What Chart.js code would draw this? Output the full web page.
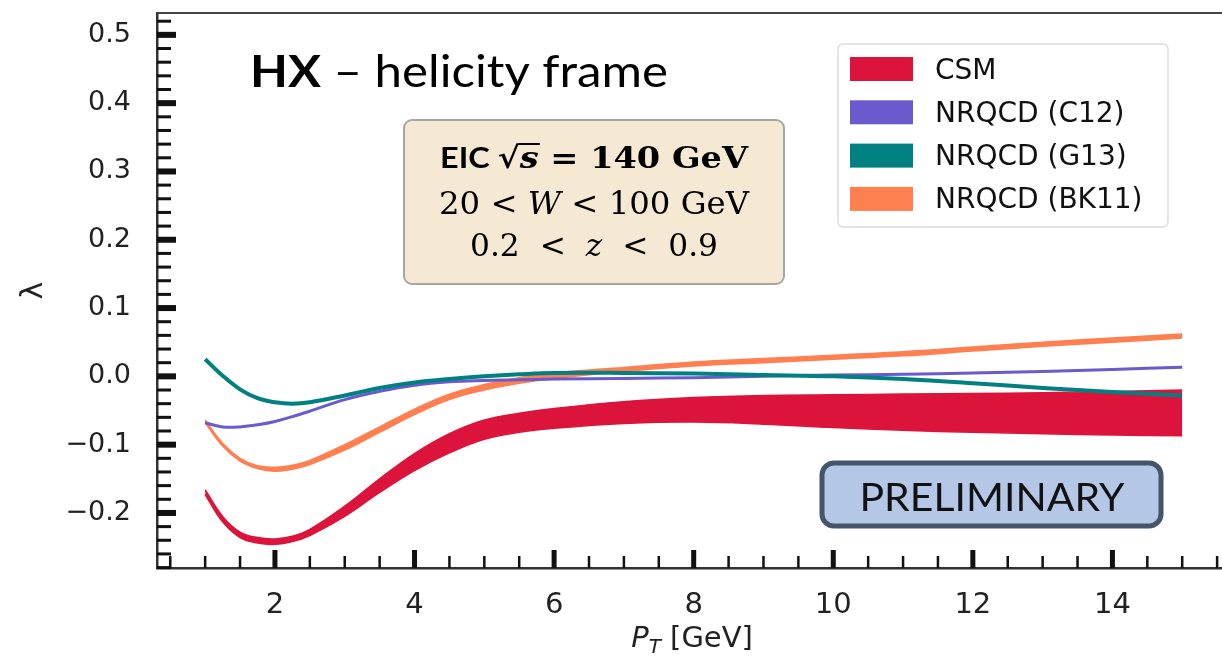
<!DOCTYPE html>
<html>
<head>
<meta charset="utf-8">
<title>HX helicity frame</title>
<script src="https://cdn.jsdelivr.net/npm/chart.js@4.4.1/dist/chart.umd.min.js"></script>
<style>
  html, body { margin: 0; padding: 0; background: #fff; overflow: hidden; }
  #box { position: relative; width: 1222px; height: 656px; }
</style>
</head>
<body>
<div id="box"><canvas id="myChart"></canvas></div>
<script>
// values (P_T in GeV, lambda)
const ptValues  = [1, 1.25, 1.5, 1.75, 2, 2.25, 2.5, 3, 3.5, 4, 4.5, 5, 5.5, 6, 7, 8, 9, 10, 11, 12, 13, 14, 15];
const csmUpper  = [-0.166, -0.205, -0.228, -0.236, -0.238, -0.234, -0.224, -0.190, -0.150, -0.113, -0.084, -0.064, -0.054, -0.047, -0.037, -0.031, -0.028, -0.027, -0.026, -0.025, -0.024, -0.022, -0.020];
const csmLower  = [-0.173, -0.213, -0.236, -0.244, -0.246, -0.242, -0.233, -0.205, -0.170, -0.138, -0.112, -0.092, -0.082, -0.076, -0.069, -0.067, -0.070, -0.075, -0.079, -0.082, -0.084, -0.086, -0.087];
const bk11Upper = [-0.064, -0.098, -0.120, -0.131, -0.133, -0.130, -0.123, -0.100, -0.074, -0.048, -0.026, -0.012, -0.002, 0.005, 0.013, 0.021, 0.026, 0.031, 0.036, 0.043, 0.050, 0.056, 0.062];
const bk11Lower = [-0.068, -0.102, -0.124, -0.135, -0.139, -0.136, -0.129, -0.108, -0.082, -0.056, -0.034, -0.020, -0.010, -0.003, 0.007, 0.015, 0.020, 0.025, 0.030, 0.037, 0.044, 0.050, 0.056];
const c12Values = [-0.068, -0.074, -0.074, -0.071, -0.066, -0.059, -0.051, -0.034, -0.022, -0.013, -0.008, -0.006, -0.005, -0.004, -0.003, -0.002, 0.000, 0.002, 0.003, 0.005, 0.007, 0.010, 0.0135];
const g13Values = [0.025, 0.001, -0.019, -0.032, -0.038, -0.040, -0.038, -0.028, -0.017, -0.009, -0.004, 0.000, 0.003, 0.005, 0.005, 0.004, 0.002, 0.000, -0.004, -0.010, -0.017, -0.023, -0.028];

const seriesNames  = ['CSM', 'NRQCD (C12)', 'NRQCD (G13)', 'NRQCD (BK11)'];
const seriesColors = ['#dc143c', '#6a5acd', '#008080', '#ff7f50'];
const xTickValues  = [2, 4, 6, 8, 10, 12, 14];
const yTickValues  = [-0.2, -0.1, 0.0, 0.1, 0.2, 0.3, 0.4, 0.5];

function toPoints(xs, ys) {
  return xs.map(function (x, i) { return { x: x, y: ys[i] }; });
}

function roundRect(ctx, x, y, w, h, r) {
  ctx.beginPath();
  ctx.moveTo(x + r, y);
  ctx.arcTo(x + w, y, x + w, y + h, r);
  ctx.arcTo(x + w, y + h, x, y + h, r);
  ctx.arcTo(x, y + h, x, y, r);
  ctx.arcTo(x, y, x + w, y, r);
  ctx.closePath();
}

// draw a row of text pieces, optionally squeezed/stretched to a width
function drawParts(ctx, parts, x, y, width, align) {
  let total = 0;
  parts.forEach(function (p) { ctx.font = p.font; p.w = ctx.measureText(p.text).width; total += p.w; });
  const sx = width ? width / total : 1;
  const startX = align === 'center' ? x - total * sx / 2 : x;
  ctx.save();
  ctx.translate(startX, y);
  ctx.scale(sx, 1);
  let cx = 0;
  parts.forEach(function (p) {
    ctx.font = p.font;
    ctx.fillText(p.text, cx, p.dy || 0);
    if (p.over) {
      ctx.fillRect(cx - 1, -p.over, p.w + 2, 2);
    }
    cx += p.w;
  });
  ctx.restore();
}

// inward tick marks (major + minor) and the top frame line
const tickMarks = {
  id: 'tickMarks',
  afterDraw(chart) {
    const ctx = chart.ctx, area = chart.chartArea;
    const xs = chart.scales.x, ys = chart.scales.y;
    ctx.save();
    ctx.fillStyle = '#111';
    for (let i = -14; i <= 26; i++) {
      const py = ys.getPixelForValue(i * 0.02);
      if (py < area.top || py > area.bottom + 1) continue;
      const major = i % 5 === 0;
      const len = major ? 19 : 14, w = major ? 6 : 3;
      ctx.fillRect(area.left, py - w / 2, len, w);
    }
    for (let i = 1; i <= 31; i++) {
      const px = xs.getPixelForValue(i * 0.5);
      if (px < area.left || px > area.right) continue;
      const major = i % 4 === 0;
      const len = major ? 18 : 12, w = major ? 5 : 2.5;
      ctx.fillRect(px - w / 2, area.bottom - len, w, len);
    }
    ctx.fillStyle = '#444';
    ctx.fillRect(area.left, area.top - 1, area.right - area.left, 2);
    ctx.restore();
  }
};

// slide annotations: title, info box, legend, PRELIMINARY stamp, x title
const annotations = {
  id: 'annotations',
  afterDraw(chart) {
    const ctx = chart.ctx;
    ctx.save();
    ctx.textBaseline = 'alphabetic';
    ctx.fillStyle = '#000';

    drawParts(ctx, [
      { text: 'HX', font: 'bold 44px Lato' },
      { text: ' \u2013 helicity frame', font: '44px Lato' }
    ], 250, 87, 418);

    // info box
    roundRect(ctx, 404, 120, 380, 164, 8);
    ctx.fillStyle = '#f6e9d3';
    ctx.fill();
    ctx.strokeStyle = '#a6a6a6';
    ctx.lineWidth = 2;
    ctx.stroke();
    ctx.fillStyle = '#000';
    drawParts(ctx, [
      { text: 'EIC ', font: 'bold 29px Lato' },
      { text: '\u221a', font: 'bold 30px "DejaVu Serif"' },
      { text: 's', font: 'italic bold 30px "DejaVu Serif"', over: 25 },
      { text: ' = 140 GeV', font: 'bold 30px "DejaVu Serif"' }
    ], 594, 168, 308, 'center');
    drawParts(ctx, [
      { text: '20 < ', font: '32px "DejaVu Serif"' },
      { text: 'W', font: 'italic 32px "DejaVu Serif"' },
      { text: ' < 100 GeV', font: '32px "DejaVu Serif"' }
    ], 594, 214, 310, 'center');
    drawParts(ctx, [
      { text: '0.2  <  ', font: '32px "DejaVu Serif"' },
      { text: 'z', font: 'italic 32px "DejaVu Serif"' },
      { text: '  <  0.9', font: '32px "DejaVu Serif"' }
    ], 594, 256, 248, 'center');

    // legend
    roundRect(ctx, 838, 44, 330, 183, 5);
    ctx.fillStyle = '#fff';
    ctx.fill();
    ctx.strokeStyle = '#dcdcdc';
    ctx.lineWidth = 1.5;
    ctx.stroke();
    seriesNames.forEach(function (name, i) {
      const top = 57 + i * 43.3;
      ctx.fillStyle = seriesColors[i];
      ctx.fillRect(850, top, 63, 24);
      ctx.fillStyle = '#111';
      drawParts(ctx, [{ text: name, font: '28px "DejaVu Sans"' }], 935, top + 21.5, null);
    });

    // PRELIMINARY stamp
    roundRect(ctx, 822, 463, 339, 63, 12);
    ctx.fillStyle = '#b4c7e7';
    ctx.fill();
    ctx.strokeStyle = '#44546a';
    ctx.lineWidth = 5;
    ctx.stroke();
    ctx.fillStyle = '#111';
    drawParts(ctx, [{ text: 'PRELIMINARY', font: '39px Lato' }], 992, 511, 265, 'center');

    // x axis title
    ctx.fillStyle = '#222';
    drawParts(ctx, [
      { text: 'P', font: 'italic 29px "DejaVu Sans"' },
      { text: 'T', font: 'italic 20px "DejaVu Sans"', dy: 6 },
      { text: ' [GeV]', font: '29px "DejaVu Sans"' }
    ], 692, 647, null, 'center');
    ctx.restore();
  }
};

function lambdaLabel(v) {
  if (Math.abs(v) < 1e-9) return '0.0';
  return (v < 0 ? '\u2212' : '') + Math.abs(v).toFixed(1);
}

const ctx = document.getElementById('myChart').getContext('2d');
const myChart = new Chart(ctx, {
  type: 'line',
  data: {
    datasets: [
      { label: seriesNames[0], data: toPoints(ptValues, csmUpper), borderColor: seriesColors[0], backgroundColor: seriesColors[0], borderWidth: 1.5, fill: '+1', order: 4 },
      { label: seriesNames[0] + ' low', data: toPoints(ptValues, csmLower), borderColor: seriesColors[0], borderWidth: 1.5, fill: false, order: 4 },
      { label: seriesNames[3], data: toPoints(ptValues, bk11Upper), borderColor: seriesColors[3], backgroundColor: seriesColors[3], borderWidth: 1.5, fill: '+1', order: 3 },
      { label: seriesNames[3] + ' low', data: toPoints(ptValues, bk11Lower), borderColor: seriesColors[3], borderWidth: 1.5, fill: false, order: 3 },
      { label: seriesNames[1], data: toPoints(ptValues, c12Values), borderColor: seriesColors[1], borderWidth: 3, fill: false, order: 2 },
      { label: seriesNames[2], data: toPoints(ptValues, g13Values), borderColor: seriesColors[2], borderWidth: 4, fill: false, order: 1 }
    ]
  },
  options: {
    responsive: true,
    maintainAspectRatio: false,
    animation: false,
    layout: { padding: { top: 13, right: 0, left: 0, bottom: 0 } },
    elements: { point: { radius: 0 }, line: { tension: 0.4 } },
    plugins: { legend: { display: false }, tooltip: { enabled: false } },
    scales: {
      x: {
        type: 'linear',
        min: 0.31,
        max: 15.57,
        grid: { display: false, drawTicks: false },
        border: { display: true, color: '#333', width: 2.5 },
        afterBuildTicks: function (s) { s.ticks = xTickValues.map(function (v) { return { value: v }; }); },
        ticks: { font: { family: 'DejaVu Sans', size: 29 }, color: '#222', padding: 20 },
        afterFit: function (s) { s.height = 88; s.paddingLeft = 0; s.paddingRight = 0; }
      },
      y: {
        min: -0.2806,
        max: 0.532,
        grid: { display: false, drawTicks: false },
        border: { display: true, color: '#333', width: 2.5 },
        afterBuildTicks: function (s) { s.ticks = yTickValues.map(function (v) { return { value: v }; }); },
        ticks: { font: { family: 'DejaVu Sans', size: 27 }, color: '#222', padding: 26, callback: lambdaLabel },
        title: { display: true, text: '\u03bb', font: { family: 'DejaVu Sans', size: 30 }, color: '#222', padding: { top: 16, bottom: 0 } },
        afterFit: function (s) { s.width = 157; s.paddingTop = 0; s.paddingBottom = 0; }
      }
    }
  },
  plugins: [tickMarks, annotations]
});
</script>
</body>
</html>
